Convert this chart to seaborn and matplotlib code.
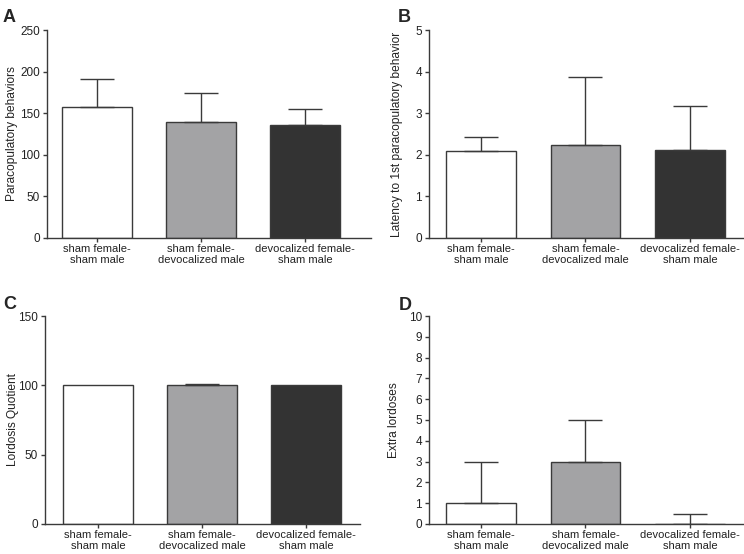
import pandas as pd
import numpy as np
import seaborn as sns
import matplotlib.pyplot as plt

groups = ["sham female-\nsham male",
          "sham female-\ndevocalized male",
          "devocalized female-\nsham male"]
colors = ["#ffffff", "#a2a2a6", "#333333"]

paracop_mean = [157, 140, 136]
paracop_err = [34, 34, 19]

latency_mean = [2.10, 2.24, 2.12]
latency_err = [0.33, 1.62, 1.06]

lq_mean = [100, 100, 100]
lq_err = [0, 1, 0]

extra_mean = [1, 3, 0]
extra_err = [2, 2, 0.5]

# letter, means, errors, ylabel, ymax, tick step, axes rect, xlim, letter pos, ylabel x
panels = [
    ("A", paracop_mean, paracop_err, "Paracopulatory behaviors", 250, 50,
     [0.0632, 0.5704, 0.4355, 0.3754], (-0.48, 2.63), (0.004, 0.984), -0.090),
    ("B", latency_mean, latency_err, "Latency to 1st paracopulatory behavior", 5, 1,
     [0.5766, 0.5704, 0.4221, 0.3754], (-0.50, 2.51), (0.535, 0.984), -0.084),
    ("C", lq_mean, lq_err, "Lordosis Quotient", 150, 50,
     [0.0605, 0.0542, 0.4234, 0.3754], (-0.51, 2.52), (0.004, 0.466), -0.084),
    ("D", extra_mean, extra_err, "Extra lordoses", 10, 1,
     [0.5766, 0.0542, 0.4221, 0.3754], (-0.50, 2.51), (0.536, 0.464), -0.091),
]

sns.set_style("ticks")
plt.rcParams['font.family'] = ['Liberation Sans', 'DejaVu Sans']
line_col = "#3a3a3a"

fig = plt.figure(figsize=(7.44, 5.54), dpi=100)

for letter, means, errs, ylabel, ymax, step, rect, xlim, lpos, ylx in panels:
    ax = fig.add_axes(rect)
    df = pd.DataFrame({"group": groups, "value": means})
    sns.barplot(data=df, x="group", y="value", hue="group", palette=colors,
                width=0.67, edgecolor=line_col, linewidth=1.0,
                legend=False, ax=ax)
    xs = np.array([p.get_x() + p.get_width() / 2 for p in ax.patches])
    m = np.array(errs) > 0
    ax.errorbar(xs[m], np.array(means)[m],
                yerr=[np.zeros(m.sum()), np.array(errs)[m]], fmt="none",
                ecolor=line_col, elinewidth=1.0, capsize=12, capthick=1.0,
                zorder=1)
    ax.set_ylim(0, ymax)
    ax.set_yticks(np.arange(0, ymax + step / 2, step))
    ax.set_xlim(*xlim)
    ax.set_xlabel("")
    ax.set_ylabel(ylabel, fontsize=8.6, color="#222222")
    ax.yaxis.set_label_coords(ylx, 0.5)
    for s in ["top", "right"]:
        ax.spines[s].set_visible(False)
    for s in ["left", "bottom"]:
        ax.spines[s].set_color(line_col)
        ax.spines[s].set_linewidth(1.0)
    ax.tick_params(axis="both", labelsize=8.5, colors=line_col, length=3,
                   width=1.0, labelcolor="#222222", pad=2)
    ax.tick_params(axis="x", labelsize=8.0, pad=1.5)
    for t in ax.get_xticklabels():
        t.set_linespacing(1.05)
    fig.text(lpos[0], lpos[1], letter, fontsize=13, fontweight="bold",
             va="top", ha="left")

fig.savefig("out.png", dpi=100)
